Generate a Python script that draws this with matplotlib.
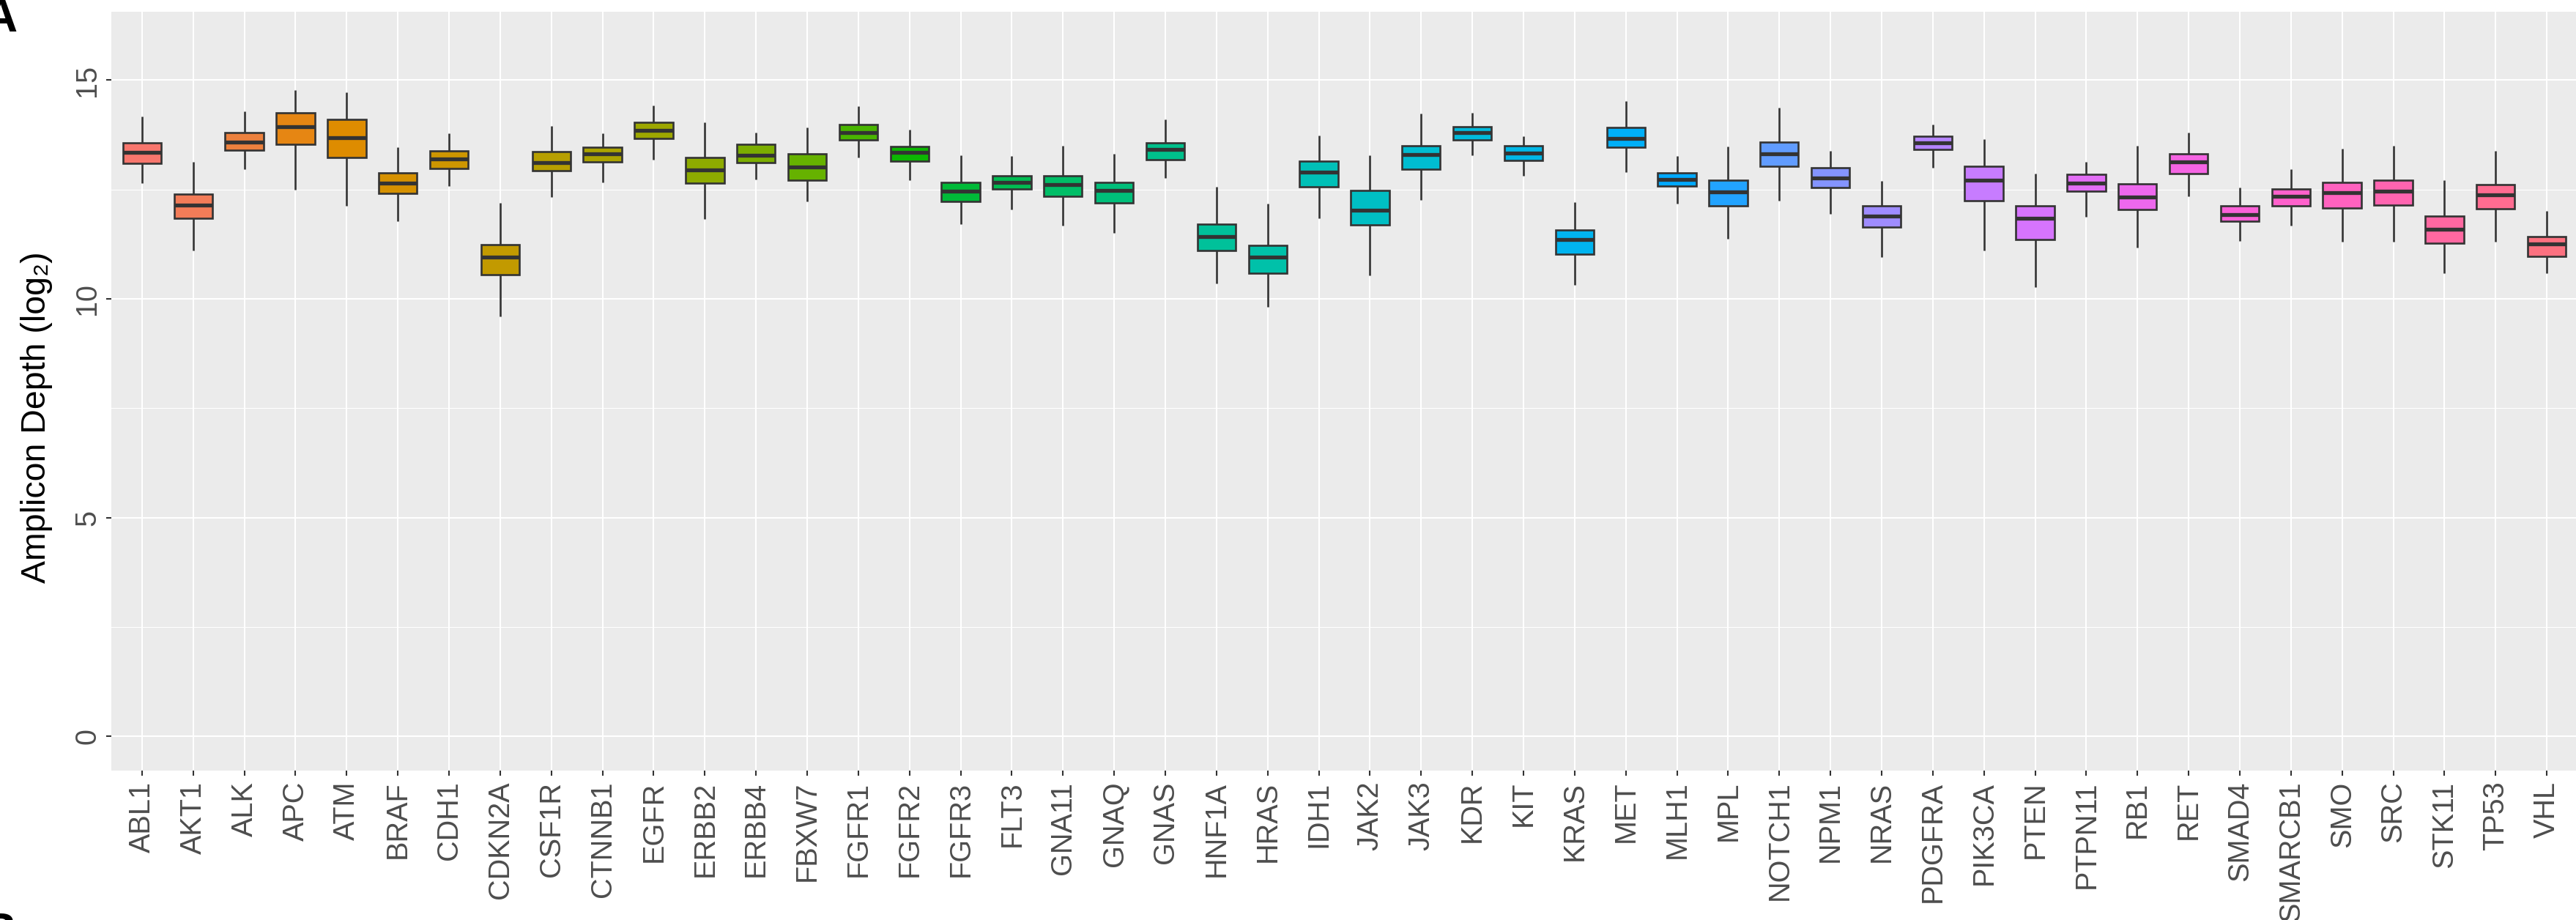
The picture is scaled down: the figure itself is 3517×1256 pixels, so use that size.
import numpy as np
import matplotlib
matplotlib.use('Agg')
import matplotlib.pyplot as plt

genes = ['ABL1', 'AKT1', 'ALK', 'APC', 'ATM', 'BRAF', 'CDH1', 'CDKN2A', 'CSF1R', 'CTNNB1',
         'EGFR', 'ERBB2', 'ERBB4', 'FBXW7', 'FGFR1', 'FGFR2', 'FGFR3', 'FLT3', 'GNA11', 'GNAQ',
         'GNAS', 'HNF1A', 'HRAS', 'IDH1', 'JAK2', 'JAK3', 'KDR', 'KIT', 'KRAS', 'MET',
         'MLH1', 'MPL', 'NOTCH1', 'NPM1', 'NRAS', 'PDGFRA', 'PIK3CA', 'PTEN', 'PTPN11', 'RB1',
         'RET', 'SMAD4', 'SMARCB1', 'SMO', 'SRC', 'STK11', 'TP53', 'VHL']

whisker_high = [14.17, 13.14, 14.29, 14.77, 14.72, 13.46, 13.78, 12.19, 13.95, 13.78,
                14.42, 14.04, 13.81, 13.92, 14.40, 13.87, 13.28, 13.26, 13.50, 13.31,
                14.11, 12.56, 12.18, 13.74, 13.29, 14.23, 14.25, 13.71, 12.21, 14.52,
                13.27, 13.48, 14.37, 13.38, 12.69, 13.99, 13.65, 12.86, 13.14, 13.50,
                13.80, 12.54, 12.97, 13.43, 13.50, 12.72, 13.38, 12.01]
q3 = [13.57, 12.40, 13.81, 14.26, 14.10, 12.88, 13.38, 11.24, 13.37, 13.47,
      14.03, 13.23, 13.54, 13.32, 13.98, 13.49, 12.67, 12.82, 12.81, 12.67,
      13.57, 11.71, 11.22, 13.15, 12.48, 13.50, 13.94, 13.50, 11.58, 13.92,
      12.88, 12.71, 13.59, 12.99, 12.13, 13.71, 13.03, 12.12, 12.85, 12.63,
      13.32, 12.13, 12.51, 12.66, 12.71, 11.89, 12.61, 11.43]
median = [13.35, 12.15, 13.59, 13.94, 13.69, 12.65, 13.20, 10.96, 13.11, 13.31,
          13.85, 12.94, 13.28, 13.01, 13.80, 13.35, 12.47, 12.67, 12.62, 12.48,
          13.41, 11.42, 10.96, 12.90, 12.02, 13.30, 13.80, 13.33, 11.35, 13.66,
          12.73, 12.45, 13.31, 12.76, 11.90, 13.57, 12.72, 11.85, 12.64, 12.33,
          13.14, 11.93, 12.35, 12.43, 12.47, 11.59, 12.38, 11.25]
q1 = [13.10, 11.85, 13.40, 13.54, 13.24, 12.42, 12.98, 10.56, 12.93, 13.13,
      13.67, 12.65, 13.12, 12.71, 13.64, 13.15, 12.23, 12.51, 12.35, 12.19,
      13.18, 11.10, 10.58, 12.56, 11.69, 12.97, 13.63, 13.17, 11.03, 13.47,
      12.58, 12.13, 13.03, 12.54, 11.64, 13.42, 12.24, 11.36, 12.47, 12.05,
      12.87, 11.77, 12.13, 12.08, 12.14, 11.27, 12.06, 10.97]
whisker_low = [12.65, 11.10, 12.96, 12.50, 12.12, 11.77, 12.58, 9.60, 12.32, 12.67,
               13.19, 11.82, 12.73, 12.23, 13.24, 12.71, 11.71, 12.04, 11.68, 11.50,
               12.77, 10.36, 9.81, 11.84, 10.53, 12.26, 13.28, 12.82, 10.31, 12.90,
               12.17, 11.38, 12.24, 11.94, 10.95, 12.99, 11.11, 10.26, 11.88, 11.17,
               12.35, 11.32, 11.67, 11.31, 11.31, 10.58, 11.31, 10.59]

y_ticks = [0, 5, 10, 15]
y_label = 'Amplicon Depth (log₂)'


def hue_pal(n, c=100.0, l=65.0):
    # cores padrao do ggplot2 (hcl com matiz igualmente espacado)
    hues = np.linspace(15, 375, n + 1)[:-1]
    xn, yn, zn = 95.047, 100.0, 108.883
    un = 4 * xn / (xn + 15 * yn + 3 * zn)
    vn = 9 * yn / (xn + 15 * yn + 3 * zn)
    cores = []
    for h in hues:
        u = c * np.cos(np.radians(h))
        v = c * np.sin(np.radians(h))
        Y = yn * ((l + 16) / 116) ** 3
        up = u / (13 * l) + un
        vp = v / (13 * l) + vn
        X = 9.0 * Y * up / (4 * vp)
        Z = -X / 3 - 5 * Y + 3 * Y / vp
        X, Y, Z = X / 100, Y / 100, Z / 100
        rgb = np.array([3.240479 * X - 1.537150 * Y - 0.498535 * Z,
                        -0.969256 * X + 1.875992 * Y + 0.041556 * Z,
                        0.055648 * X - 0.204043 * Y + 1.057311 * Z])
        rgb = np.where(rgb <= 0.0031308, 12.92 * rgb, 1.055 * np.abs(rgb) ** (1 / 2.4) - 0.055)
        cores.append(tuple(np.clip(rgb, 0, 1)))
    return cores


plt.rcParams['font.family'] = ['Liberation Sans', 'DejaVu Sans']

W, H = 3517, 1256
fig = plt.figure(figsize=(W / 100, H / 100), dpi=100)
ax = fig.add_axes([152 / W, (H - 1051.7) / H, 3367 / W, 1036 / H])

stats = []
for i, g in enumerate(genes):
    stats.append({'label': g, 'med': median[i], 'q1': q1[i], 'q3': q3[i],
                  'whislo': whisker_low[i], 'whishi': whisker_high[i], 'fliers': []})

bp = ax.bxp(stats, positions=np.arange(1, len(genes) + 1), widths=0.75,
            patch_artist=True, showcaps=False, showfliers=False,
            boxprops=dict(edgecolor='#333333', linewidth=1.9),
            whiskerprops=dict(color='#333333', linewidth=1.9, solid_capstyle='butt'),
            medianprops=dict(color='#333333', linewidth=3.8, solid_capstyle='butt'))

for patch, cor in zip(bp['boxes'], hue_pal(len(genes))):
    patch.set_facecolor(cor)

# estilo do tema cinza do ggplot
ax.set_facecolor('#EBEBEB')
for s in ax.spines.values():
    s.set_visible(False)
ax.set_axisbelow(True)
ax.set_xlim(0.4, len(genes) + 0.6)
ax.set_ylim(-0.78, 16.57)
ax.set_yticks(y_ticks)
ax.set_yticks([2.5, 7.5, 12.5], minor=True)
ax.set_yticklabels([str(t) for t in y_ticks])
ax.grid(True, which='major', color='white', linewidth=1.5)
ax.grid(True, which='minor', axis='y', color='white', linewidth=0.75)
ax.tick_params(axis='both', which='major', length=5, width=1.5, color='#333333',
               labelsize=28.5, labelcolor='#4D4D4D')
ax.tick_params(axis='x', pad=5.8)
ax.tick_params(axis='y', pad=5, labelrotation=90)
ax.tick_params(which='minor', length=0)
for lab in ax.get_yticklabels():
    lab.set_va('center')
plt.setp(ax.get_xticklabels(), rotation=90, ha='center', va='top')

ax.set_ylabel(y_label, fontsize=33.5, color='black', va='center')
ax.yaxis.set_label_coords(-(152 - 50) / 3367, 0.465)

# letras dos paineis
fig.text(0, 1 - 43 / H, 'A', fontsize=46, fontweight='bold', ha='center', va='baseline')
fig.text(0, 1 - 1245 / H, 'B', fontsize=46, fontweight='bold', ha='center', va='top')

fig.savefig('out.png', dpi=100)
